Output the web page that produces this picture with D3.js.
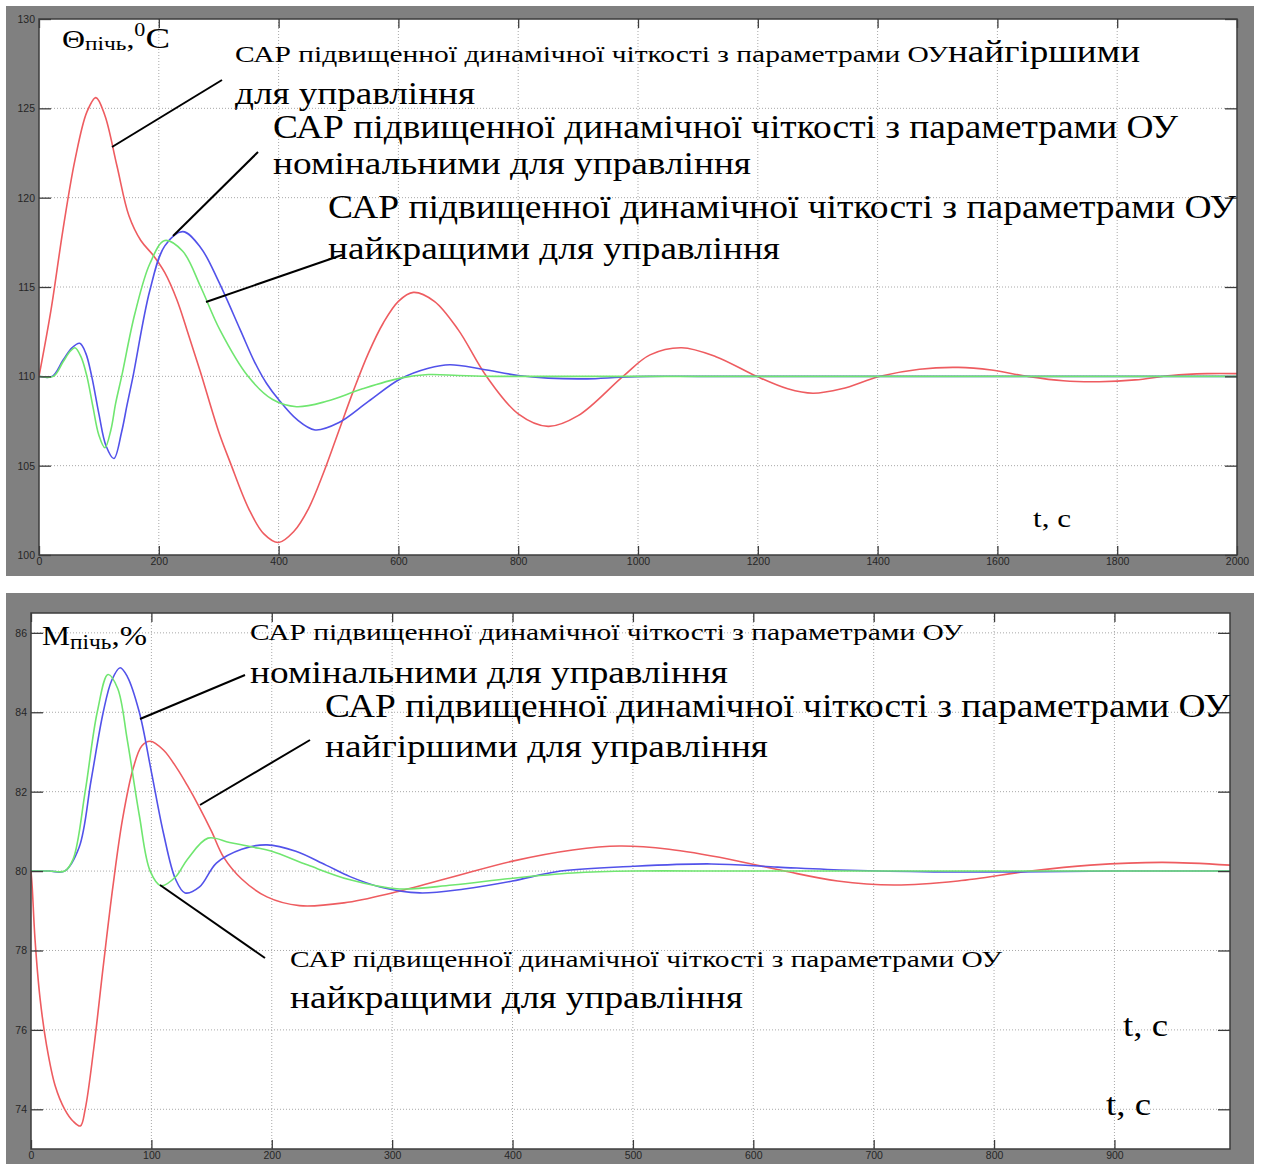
<!DOCTYPE html>
<html>
<head>
<meta charset="utf-8">
<script src="https://cdn.jsdelivr.net/npm/d3@7"></script>
<style>
  body { margin: 0; background: #fff; }
  text { font-family: "Liberation Serif", "Times New Roman", serif; }
  .tick text { font-family: "Liberation Sans", Arial, sans-serif; }
</style>
</head>
<body>
<svg id="chart" width="1261" height="1164"></svg>
<script>
// ---- Furnace temperature Θ, °C (upper plot) ----
const tempTicksX = [0, 200, 400, 600, 800, 1000, 1200, 1400, 1600, 1800, 2000];
const tempTicksY = [100, 105, 110, 115, 120, 125, 130];

// worst-case plant parameters (red)
const tempWorst = [[0,110],[20,113.7],[40,118.2],[60,122.1],[80,124.8],[95,125.6],[110,124.6],[130,121.8],[150,119.0],
  [170,117.6],[190,116.8],[210,115.8],[230,114.3],[247,112.6],[269,110.3],[300,106.9],[319,105.2],[350,102.6],
  [375,101.2],[400,100.7],[425,101.3],[450,102.6],[475,104.6],[500,106.9],[525,109.2],[550,111.3],[575,113.0],
  [600,114.2],[625,114.7],[660,114.2],[700,112.6],[747,110],[800,107.9],[850,107.2],[900,107.8],[975,110],[1020,111.2],
  [1073,111.6],[1130,111.1],[1198,110],[1250,109.3],[1292,109.05],[1340,109.3],[1404,110],[1470,110.4],
  [1535,110.5],[1590,110.35],[1650,110],[1710,109.75],[1770,109.7],[1830,109.8],[1890,110.05],[1950,110.15],[2000,110.15]];

// nominal plant parameters (blue)
const tempNominal = [[0,110],[22,110],[40,110.9],[55,111.6],[68,111.85],[78,111.3],[88,110],[100,107.9],[112,106.1],
  [125,105.4],[138,106.9],[147,108.4],[157,110],[185,114.8],[210,117.3],[240,118.1],[270,117.2],[300,115.3],
  [336,112.6],[360,110.8],[380,109.6],[400,108.7],[430,107.6],[461,107.0],[500,107.4],[550,108.6],[603,109.85],[650,110.45],
  [686,110.65],[740,110.4],[800,110.05],[850,109.9],[915,109.86],[970,109.95],[1020,110],[1100,110],[1300,110],
  [1600,110],[2000,110]];

// best-case plant parameters (green)
const tempBest = [[0,110],[24,110],[40,110.8],[52,111.4],[60,111.6],[70,111.1],[80,110],[90,108.3],[100,106.7],
  [110,106.0],[120,107.0],[128,108.5],[138,110],[160,113.5],[185,116.3],[210,117.6],[240,117.0],[270,115.0],
  [302,112.6],[349,110],[390,108.7],[430,108.3],[480,108.6],[540,109.3],[603,109.9],[650,110.1],[700,110.05],
  [760,110],[850,110],[1000,110],[1300,110],[1600,110],[2000,110]];

// ---- Furnace control action M, % (lower plot) ----
const ctrlTicksX = [0, 100, 200, 300, 400, 500, 600, 700, 800, 900];
const ctrlTicksY = [74, 76, 78, 80, 82, 84, 86];

const ctrlWorst = [[0,80],[1,79.6],[3.3,78.3],[7.5,76.8],[13,75.6],[20,74.6],[28,74.0],[35,73.7],[41,73.58],
  [45,74.0],[52,75.5],[60,77.6],[68,79.6],[76,81.3],[85,82.6],[92,83.15],[99,83.27],[110,83.05],[121,82.6],
  [130,82.15],[140,81.6],[150,81.0],[160,80.35],[175,79.8],[196,79.35],[223,79.13],[260,79.2],[300,79.45],
  [350,79.85],[400,80.25],[450,80.53],[489,80.63],[530,80.55],[580,80.3],[626,80],[670,79.75],[717,79.65],
  [770,79.75],[830,80],[880,80.15],[940,80.22],[996,80.15]];

const ctrlNominal = [[0,80],[15,80],[28,80],[40,80.6],[50,82.3],[60,84.0],[67,84.8],[74,85.12],[80,84.9],[90,84.0],
  [100,82.5],[110,80.96],[120,79.8],[128,79.45],[140,79.6],[154,80.2],[175,80.55],[196,80.66],[220,80.5],
  [245,80.15],[265,79.86],[290,79.6],[323,79.45],[360,79.55],[400,79.75],[440,80.0],[500,80.12],[565,80.18],
  [620,80.1],[680,80.02],[750,79.98],[820,79.98],[900,80],[996,80]];

const ctrlBest = [[0,80],[15,80],[28,80],[35,80.3],[45,82.0],[55,84.0],[64,84.95],[72,84.6],[80,83.3],[90,81.4],[99,80.0],
  [108,79.63],[120,79.85],[130,80.3],[147,80.83],[165,80.72],[185,80.6],[200,80.5],[230,80.15],[265,79.78],
  [306,79.55],[350,79.65],[400,79.82],[450,79.95],[500,80],[580,80],[700,80],[850,80],[996,80]];

// ---- annotation texts ----
const sarPrefix = "САР підвищенної динамічної чіткості з параметрами ОУ";
const worstWord = "найгіршими";
const worstTail = "для управління";
const nominalLine = "номінальними для управління";
const bestLine = "найкращими для управління";
const worstLine = "найгіршими для управління";
const timeLabel = "t, c";

const colors = { worst: "#ee5c60", nominal: "#5252ea", best: "#70e670" };

const svg = d3.select("#chart");

function panel(opt) {
  const g = svg.append("g");
  // grey figure frame
  g.append("rect").attr("x", opt.frame[0]).attr("y", opt.frame[1])
    .attr("width", opt.frame[2]).attr("height", opt.frame[3]).attr("fill", "#808080");

  const x = d3.scaleLinear().domain(opt.xDomain).range([opt.left, opt.right]);
  const y = d3.scaleLinear().domain(opt.yDomain).range([opt.bottom, opt.top]);

  g.append("rect").attr("x", opt.left).attr("y", opt.top)
    .attr("width", opt.right - opt.left).attr("height", opt.bottom - opt.top).attr("fill", "#fff");

  // dotted grid
  const grid = g.append("g").attr("stroke", "#a8a8a8").attr("stroke-width", 1).attr("stroke-dasharray", "1,2");
  grid.selectAll(".gx").data(opt.xTicks.filter(v => v > opt.xDomain[0] && v < opt.xDomain[1]))
    .join("line").attr("x1", d => x(d)).attr("x2", d => x(d)).attr("y1", opt.top).attr("y2", opt.bottom);
  grid.selectAll(".gy").data(opt.yTicks.filter(v => v > opt.yDomain[0] && v < opt.yDomain[1]))
    .join("line").attr("y1", d => y(d)).attr("y2", d => y(d)).attr("x1", opt.left).attr("x2", opt.right);

  const line = d3.line().x(d => x(d[0])).y(d => y(d[1])).curve(d3.curveCatmullRom.alpha(0.5));
  opt.series.forEach(s => {
    g.append("path").datum(s.data).attr("d", line).attr("fill", "none")
      .attr("stroke", s.color).attr("stroke-width", 1.6);
  });

  // axes with inward ticks (mirrored on top and right)
  const fmt = d3.format("d");
  const styleAxis = a => {
    a.select(".domain").remove();
    a.selectAll(".tick line").attr("stroke", "#3c3c3c").attr("stroke-width", 1.3);
    a.selectAll(".tick text").attr("fill", "#262626").attr("font-size", 10.5);
  };
  g.append("g").attr("transform", `translate(0,${opt.bottom})`)
    .call(d3.axisBottom(x).tickValues(opt.xTicks).tickFormat(fmt).tickSizeInner(-9).tickSizeOuter(0).tickPadding(3))
    .call(styleAxis);
  g.append("g").attr("transform", `translate(0,${opt.top})`)
    .call(d3.axisTop(x).tickValues(opt.xTicks).tickSizeInner(-9).tickSizeOuter(0).tickFormat(""))
    .call(styleAxis);
  g.append("g").attr("transform", `translate(${opt.left},0)`)
    .call(d3.axisLeft(y).tickValues(opt.yTicks).tickFormat(fmt).tickSizeInner(-12).tickSizeOuter(0).tickPadding(4))
    .call(styleAxis);
  g.append("g").attr("transform", `translate(${opt.right},0)`)
    .call(d3.axisRight(y).tickValues(opt.yTicks).tickSizeInner(-12).tickSizeOuter(0).tickFormat(""))
    .call(styleAxis);

  g.append("rect").attr("x", opt.left).attr("y", opt.top)
    .attr("width", opt.right - opt.left).attr("height", opt.bottom - opt.top)
    .attr("fill", "none").attr("stroke", "#3c3c3c").attr("stroke-width", 1.5);
  return g;
}

function label(g, str, px, py, size, width) {
  return g.append("text").attr("x", px).attr("y", py).attr("font-size", size)
    .attr("textLength", width).attr("lengthAdjust", "spacingAndGlyphs").attr("fill", "#000").text(str);
}
function leader(g, x1, y1, x2, y2) {
  g.append("line").attr("x1", x1).attr("y1", y1).attr("x2", x2).attr("y2", y2)
    .attr("stroke", "#000").attr("stroke-width", 2);
}

// ---------- upper plot ----------
const upperPlot = panel({
  frame: [6, 6, 1248, 570],
  left: 39, right: 1237, top: 19, bottom: 555,
  xDomain: [0, 2000], yDomain: [100, 130],
  xTicks: tempTicksX, yTicks: tempTicksY,
  series: [
    { data: tempWorst, color: colors.worst },
    { data: tempNominal, color: colors.nominal },
    { data: tempBest, color: colors.best }
  ]
});

const thetaLabel = upperPlot.append("text").attr("x", 62).attr("y", 48).attr("fill", "#000");
thetaLabel.append("tspan").attr("font-size", 26).text("Θ");
thetaLabel.append("tspan").attr("font-size", 19).attr("dy", 2).text("пічь");
thetaLabel.append("tspan").attr("font-size", 26).attr("dy", -2).text(",");
thetaLabel.append("tspan").attr("font-size", 18).attr("dy", -12).text("0");
thetaLabel.append("tspan").attr("font-size", 30).attr("dy", 12).text("C");
thetaLabel.attr("textLength", 108).attr("lengthAdjust", "spacingAndGlyphs");

label(upperPlot, sarPrefix, 235, 62, 23, 713);
label(upperPlot, worstWord, 948, 62, 31, 192);
label(upperPlot, worstTail, 235, 104, 31, 240);
label(upperPlot, sarPrefix, 273, 138, 33, 905);
label(upperPlot, nominalLine, 273, 174, 31, 478);
label(upperPlot, sarPrefix, 328, 218, 33, 908);
label(upperPlot, bestLine, 328, 259, 31, 452);
label(upperPlot, timeLabel, 1033, 527, 25, 38);

leader(upperPlot, 222, 80, 112, 147);
leader(upperPlot, 258, 152, 173, 236);
leader(upperPlot, 342, 255, 206, 302);

// ---------- lower plot ----------
const lowerPlot = panel({
  frame: [6, 593, 1248, 571],
  left: 31, right: 1230, top: 613, bottom: 1149,
  xDomain: [0, 996], yDomain: [73, 86.5],
  xTicks: ctrlTicksX, yTicks: ctrlTicksY,
  series: [
    { data: ctrlWorst, color: colors.worst },
    { data: ctrlNominal, color: colors.nominal },
    { data: ctrlBest, color: colors.best }
  ]
});

const mLabel = lowerPlot.append("text").attr("x", 42).attr("y", 645).attr("fill", "#000");
mLabel.append("tspan").attr("font-size", 27).text("M");
mLabel.append("tspan").attr("font-size", 20).attr("dy", 4).text("пічь");
mLabel.append("tspan").attr("font-size", 28).attr("dy", -4).text(",%");
mLabel.attr("textLength", 105).attr("lengthAdjust", "spacingAndGlyphs");

label(lowerPlot, sarPrefix, 250, 640, 24, 713);
label(lowerPlot, nominalLine, 250, 683, 31, 478);
label(lowerPlot, sarPrefix, 325, 717, 33, 905);
label(lowerPlot, worstLine, 325, 757, 31, 443);
label(lowerPlot, sarPrefix, 290, 967, 24, 712);
label(lowerPlot, bestLine, 290, 1008, 31, 453);
label(lowerPlot, timeLabel, 1123, 1036, 31, 45);
label(lowerPlot, timeLabel, 1106, 1115, 31, 45);

leader(lowerPlot, 245, 675, 140, 719);
leader(lowerPlot, 310, 740, 200, 805);
leader(lowerPlot, 265, 958, 160, 885);
</script>
</body>
</html>
